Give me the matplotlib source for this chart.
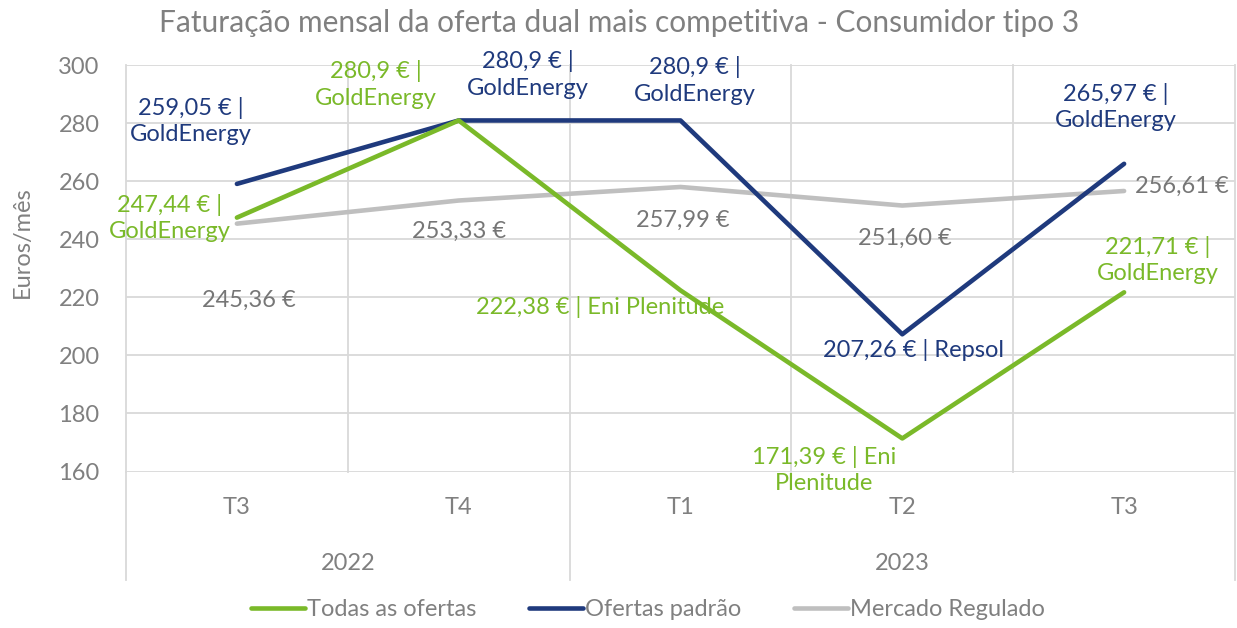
import matplotlib
matplotlib.use("Agg")
import matplotlib.pyplot as plt
import matplotlib.transforms as mtransforms

plt.rcParams["font.family"] = ["Lato", "DejaVu Sans"]

# ─────────────────────────────────────────────────────────────────────────────
# Data
# ─────────────────────────────────────────────────────────────────────────────
quarters = ["T3", "T4", "T1", "T2", "T3"]
years = ["2022", "2023"]
year_span = [(0, 1), (2, 4)]          # first / last quarter index of each year

todas = [247.44, 280.9, 222.38, 171.39, 221.71]
padrao = [259.05, 280.9, 280.9, 207.26, 265.97]
regulado = [245.36, 253.33, 257.99, 251.60, 256.61]

todas_labels = ["247,44 € |\nGoldEnergy", "280,9 € |\nGoldEnergy",
                "222,38 € | Eni Plenitude", "171,39 € | Eni\nPlenitude",
                "221,71 € |\nGoldEnergy"]
padrao_labels = ["259,05 € |\nGoldEnergy", "280,9 € |\nGoldEnergy",
                 "280,9 € |\nGoldEnergy", "207,26 € | Repsol",
                 "265,97 € |\nGoldEnergy"]
regulado_labels = ["245,36 €", "253,33 €", "257,99 €", "251,60 €", "256,61 €"]

# label offsets from the point, in pixels (dx right, dy up) + alignment
todas_off = [(-67, 0), (-83, 36), (-80, -17), (-78, -32), (34, 32)]
padrao_off = [(-46, 63), (69, 46), (14, 40), (11, -16), (-8, 57)]
regulado_off = [(12, -77), (0, -31), (2, -33), (3, -33), (11, 5)]
regulado_ha = ["center", "center", "center", "center", "left"]

GREEN = "#7AB929"
NAVY = "#1F3A7D"
LIGHT = "#BFBFBF"
GRID = "#D9D9D9"
TXT = "#808080"
FS = 17

fig = plt.figure(figsize=(12.37, 6.28), dpi=100)
ax = fig.add_axes([126 / 1237, 1 - 471.5 / 628, 1109 / 1237, 406.5 / 628])

x = list(range(len(quarters)))

# ── Grid ───────────────────────────────────────────────────────────────────
ax.set_xlim(-0.5, len(quarters) - 0.5)
ax.set_ylim(160, 300)
ax.set_yticks(range(160, 301, 20))
ax.grid(axis="y", color=GRID, linewidth=1.3)
for xv in [i - 0.5 for i in range(len(quarters) + 1)]:
    ax.axvline(xv, color=GRID, linewidth=1.3, clip_on=False, zorder=0)
ax.set_axisbelow(True)
for sp in ax.spines.values():
    sp.set_visible(False)
ax.tick_params(axis="y", length=0, pad=19, labelsize=FS, labelcolor=TXT)
ax.tick_params(axis="x", length=0, labelbottom=False)

# ── Lines ──────────────────────────────────────────────────────────────────
ax.plot(x, regulado, color=LIGHT, linewidth=3.3, solid_capstyle="round",
        label="Mercado Regulado", zorder=3)
ax.plot(x, padrao, color=NAVY, linewidth=3.3, solid_capstyle="round",
        label="Ofertas padrão", zorder=4)
ax.plot(x, todas, color=GREEN, linewidth=3.3, solid_capstyle="round",
        label="Todas as ofertas", zorder=5)


def put_labels(vals, labels, offs, color, aligns=None):
    aligns = aligns or ["center"] * len(vals)
    for i, (v, lab, (dx, dy), ha) in enumerate(zip(vals, labels, offs, aligns)):
        ax.annotate(lab, (i, v), xytext=(dx, dy), textcoords="offset pixels",
                    ha=ha, va="center", color=color, fontsize=FS,
                    linespacing=1.3, zorder=6, annotation_clip=False)


put_labels(regulado, regulado_labels, regulado_off, "#767676", regulado_ha)
put_labels(padrao, padrao_labels, padrao_off, NAVY)
put_labels(todas, todas_labels, todas_off, GREEN)

# ── Multi-level category axis ──────────────────────────────────────────────
trans = mtransforms.blended_transform_factory(ax.transData, fig.transFigure)
y_axis = 1 - 471.5 / 628
y_low = 1 - 580 / 628
for xv in [-0.5, year_span[0][1] + 0.5, len(quarters) - 0.5]:
    ax.plot([xv, xv], [y_axis, y_low], transform=trans, color=GRID,
            linewidth=1.3, clip_on=False)
for i, q in enumerate(quarters):
    ax.text(i, 1 - 508 / 628, q, transform=trans, ha="center", va="center",
            fontsize=FS, color=TXT)
for yr, (a, b) in zip(years, year_span):
    ax.text((a + b) / 2, 1 - 563 / 628, yr, transform=trans, ha="center",
            va="center", fontsize=FS, color=TXT)

# ── Titles and legend ──────────────────────────────────────────────────────
fig.text(619 / 1237, 1 - 23 / 628,
         "Faturação mensal da oferta dual mais competitiva - Consumidor tipo 3",
         ha="center", va="center", fontsize=21.5, color=TXT)
fig.text(22 / 1237, 1 - 242 / 628, "Euros/mês", rotation=90, ha="center",
         va="center", fontsize=FS, color=TXT)

h, l = ax.get_legend_handles_labels()
order = [2, 1, 0]
fig.legend([h[k] for k in order], [l[k] for k in order], loc="center",
           bbox_to_anchor=(648 / 1237, 1 - 610 / 628), ncol=3, frameon=False,
           fontsize=FS, labelcolor=TXT, handlelength=2.3, handletextpad=0.1,
           columnspacing=2.2)

plt.savefig("out.png", dpi=100, facecolor="white")
plt.close()
